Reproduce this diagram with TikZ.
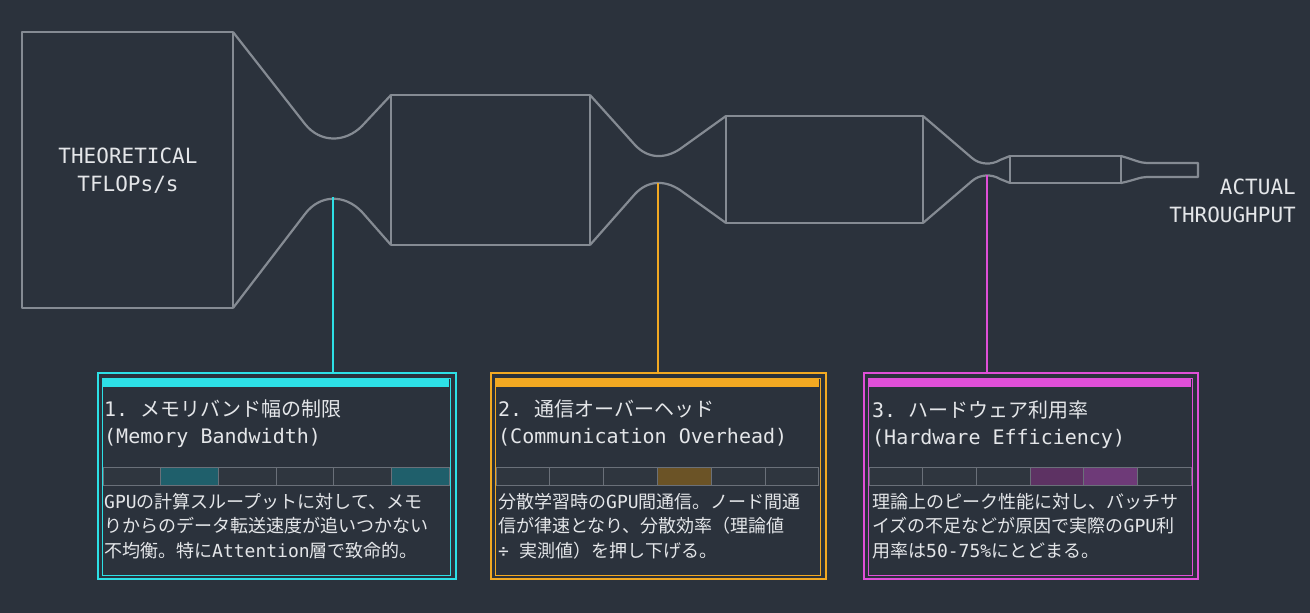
\documentclass[tikz,border=0pt]{standalone}
\usepackage{fontspec}
\setmonofont{DejaVu Sans Mono}
\newfontfamily\jp{Noto Sans CJK JP}
\definecolor{bg}{HTML}{2B323C}
\definecolor{pipe}{HTML}{858B93}
\definecolor{ink}{HTML}{E4E6E9}
\definecolor{cyanc}{HTML}{2DE0E6}
\definecolor{orangec}{HTML}{F2A922}
\definecolor{magc}{HTML}{E04FD8}
\definecolor{cyanseg}{HTML}{1F5F6B}
\definecolor{orangeseg}{HTML}{6B5326}
\definecolor{magsegA}{HTML}{5D3263}
\definecolor{magsegB}{HTML}{6E3A78}
\definecolor{segbase}{HTML}{2F363F}
\begin{document}
\begin{tikzpicture}[x=1pt, y=-1pt,
  pipeline/.style = {draw = pipe, line width = 2.2pt, line join = round},
  card/.style = {draw = #1, line width = 1.8pt, minimum width = 358pt, minimum height = 206pt, inner sep = 0pt, anchor = north west},
  lead/.style = {draw = #1, line width = 1.8pt},
  heading/.style = {anchor = north west, align = left, text = ink, font = \ttfamily\fontsize{20}{27}\selectfont, inner sep = 0pt},
  body/.style = {anchor = north west, align = left, text = ink, font = \ttfamily\fontsize{18}{24.5}\selectfont, inner sep = 0pt},
  endlabel/.style = {text = ink, font = \ttfamily\fontsize{21}{28}\selectfont, inner sep = 0pt},
  seg/.style = {draw = pipe!70!bg, line width = 1pt, fill = #1}
]
  \fill[bg] (0,0) rectangle (1310,613);
  \useasboundingbox (0,0) rectangle (1310,613);

  % pipe
  \draw[pipeline] (22,32) rectangle (233,308);
  \draw[pipeline] (391,95) rectangle (590,245);
  \draw[pipeline] (726,116) rectangle (923,223);
  \draw[pipeline] (1010,156) rectangle (1121,183);
  \draw[pipeline] (233,32) -- (305,124) .. controls (320,143) and (345,143) .. (362,126) -- (391,95);
  \draw[pipeline] (233,308) -- (305,214) .. controls (320,194) and (345,194) .. (362,212) -- (391,245);
  \draw[pipeline] (590,95) -- (635,145) .. controls (648,159) and (665,159) .. (680,149) -- (726,116);
  \draw[pipeline] (590,245) -- (635,194) .. controls (648,180) and (665,180) .. (680,190) -- (726,223);
  \draw[pipeline] (923,116) -- (972,158) .. controls (980,165) and (992,165) .. (1000,160) -- (1010,156);
  \draw[pipeline] (923,223) -- (972,181) .. controls (980,174) and (992,174) .. (1000,179) -- (1010,183);
  \draw[pipeline] (1121,156) .. controls (1135,160) and (1140,163) .. (1147,163) -- (1198,163) -- (1198,177) -- (1147,177) .. controls (1140,177) and (1135,180) .. (1121,183);

  \coordinate (t1) at (333,197);
  \coordinate (t2) at (658,183);
  \coordinate (t3) at (987,175);

  \node[endlabel, align = center] (theo) at (128,171) {THEORETICAL\\TFLOPs/s};
  \node[endlabel, align = right, anchor = east] (act) at (1296,201) {ACTUAL\\THROUGHPUT};

  % cards
  \node[card = cyanc]   (c1) at (97,372)  {};
  \node[card = orangec, minimum width = 335pt] (c2) at (490,372) {};
  \node[card = magc, minimum width = 334pt] (c3) at (863,372) {};

  \draw[lead = cyanc]   (t1) -- (c1.north -| t1);
  \draw[lead = orangec] (t2) -- (c2.north -| t2);
  \draw[lead = magc]    (t3) -- (c3.north -| t3);

  % card 1
  \draw[cyanc, line width = 1pt] (102,378) rectangle (450,575);
  \fill[cyanc] (103,378) rectangle (449,387);
  \foreach \i/\c in {0/segbase, 1/cyanseg, 2/segbase, 3/segbase, 4/segbase, 5/cyanseg}
    \draw[seg = \c] (103+\i*57.7,467) rectangle (103+\i*57.7+57.7,485);
  \node[heading] (h1) at (104,400) {1. {\jp メモリバンド幅の制限}\\(Memory Bandwidth)};
  \node[body] (b1) at (104,493) {GPU{\jp の計算スループットに対して、メモ}\\{\jp りからのデータ転送速度が追いつかない}\\{\jp 不均衡。特に}Attention{\jp 層で致命的。}};

  % card 2
  \draw[orangec, line width = 1pt] (495,378) rectangle (820,575);
  \fill[orangec] (496,378) rectangle (819,387);
  \foreach \i/\c in {0/segbase, 1/segbase, 2/segbase, 3/orangeseg, 4/segbase, 5/segbase}
    \draw[seg = \c] (496+\i*53.8,467) rectangle (496+\i*53.8+53.8,485);
  \node[heading] (h2) at (498,400) {2. {\jp 通信オーバーヘッド}\\(Communication Overhead)};
  \node[body] (b2) at (498,493) {{\jp 分散学習時の}GPU{\jp 間通信。ノード間通}\\{\jp 信が律速となり、分散効率（理論値}\\÷ {\jp 実測値）を押し下げる。}};

  % card 3
  \draw[magc, line width = 1pt] (868,378) rectangle (1192,575);
  \fill[magc] (869,378) rectangle (1191,387);
  \foreach \i/\c in {0/segbase, 1/segbase, 2/segbase, 3/magsegA, 4/magsegB, 5/segbase}
    \draw[seg = \c] (869+\i*53.7,467) rectangle (869+\i*53.7+53.7,485);
  \node[heading] (h3) at (872,400) {3. {\jp ハードウェア利用率}\\(Hardware Efficiency)};
  \node[body] (b3) at (872,493) {{\jp 理論上のピーク性能に対し、バッチサ}\\{\jp イズの不足などが原因で実際の}GPU{\jp 利}\\{\jp 用率は}50-75\%{\jp にとどまる。}};
\end{tikzpicture}
\end{document}
